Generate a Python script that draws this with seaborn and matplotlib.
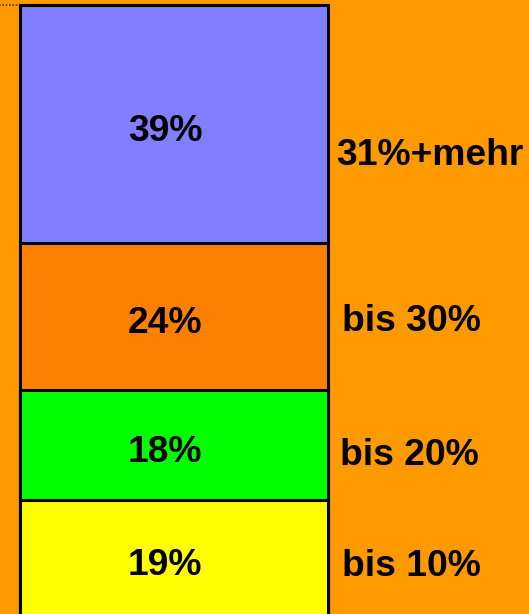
import matplotlib
matplotlib.use("Agg")
import matplotlib.pyplot as plt
import numpy as np
import pandas as pd
import seaborn as sb

sb.set_theme(style="white")
plt.rcParams['font.family'] = ['Liberation Sans', 'DejaVu Sans']

# data, bottom segment first
categories = ["bis 10%", "bis 20%", "bis 30%", "31%+mehr"]
shares = [19, 18, 24, 39]
seg_colors = ["#FFFF00", "#00FF00", "#FF8000", "#8080FF"]

BG = "#FF9900"

df = pd.DataFrame({"group": categories, "share": shares})
df["top"] = df["share"].cumsum()
df["mid"] = df["top"] - df["share"] / 2
df["col"] = ""  # single stacked column

fig = plt.figure(figsize=(5.29, 6.14), dpi=100, facecolor=BG)
ax = fig.add_axes([0, 0, 1, 1])
ax.set_facecolor(BG)

# stacked bar: draw cumulative totals largest first so smaller ones sit on top
for i in reversed(range(len(df))):
    sb.barplot(data=df.iloc[[i]], x="col", y="top", color=seg_colors[i],
               saturation=1, width=0.8, edgecolor="black", linewidth=2.2,
               ax=ax, zorder=2)

# short dotted gridline at 100 left of the bar
ax.plot([-0.46, -0.4], [100, 100], color="#5a3a10", linestyle=(0, (1, 1)),
        linewidth=1.2, zorder=1)

# labels inside the bar
for _, row in df.iterrows():
    ax.text(-0.023, row["mid"] - 1.2, f"{row['share']}%", ha="center", va="center",
            fontsize=26.8, fontweight="bold", color="black", zorder=3)

# labels to the right (layout only)
label_x = [0.435, 0.432, 0.437, 0.421]
label_y = [8.1, 26.2, 48.2, 75.3]
for name, lx, ly in zip(categories, label_x, label_y):
    ax.text(lx, ly, name, ha="left", va="center",
            fontsize=26.8, fontweight="bold", color="black", zorder=3)

ax.set_xlim(-0.452, 0.922)
ax.set_ylim(0.33, 100.82)
ax.set_xlabel("")
ax.set_ylabel("")
ax.set_xticks([])
ax.set_yticks([])
for s in ax.spines.values():
    s.set_visible(False)

fig.savefig("out.png", dpi=100, facecolor=BG)
